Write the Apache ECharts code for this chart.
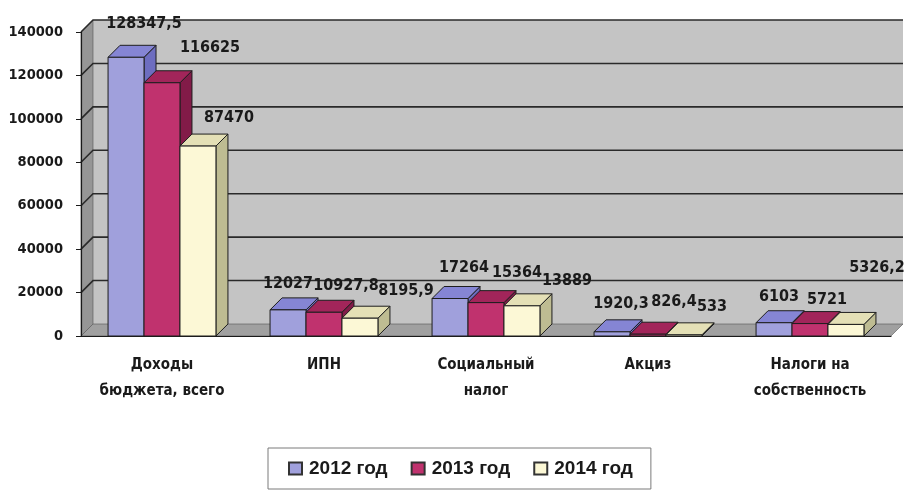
<!DOCTYPE html>
<html>
<head>
<meta charset="utf-8">
<script src="https://cdn.jsdelivr.net/npm/echarts@6/dist/echarts.min.js"></script>
<style>
  html, body { margin: 0; padding: 0; background: #ffffff; }
  #chart { width: 904px; height: 497px; }
</style>
</head>
<body>
<div id="chart"></div>
<script>
// Budget revenue by source, 2012–2014
const categories = ['Доходы\nбюджета, всего', 'ИПН', 'Социальный\nналог', 'Акциз', 'Налоги на\nсобственность'];
const years = ['2012 год', '2013 год', '2014 год'];
const values2012 = [128347.5, 12027, 17264, 1920.3, 6103];
const values2013 = [116625, 10927.8, 15364, 826.4, 5721];
const values2014 = [87470, 8195.9, 13889, 533, 5326.2];
const yTicks = [0, 20000, 40000, 60000, 80000, 100000, 120000, 140000];

// pseudo-3D depth of walls and bars
const DX = 12, DY = -12;
const FONT = '"DejaVu Sans Condensed", "DejaVu Sans", sans-serif';

const barColors = [
  { front: '#a0a0dc', top: '#8585d4', side: '#6d6dc0' },
  { front: '#c0326e', top: '#a2255a', side: '#821b48' },
  { front: '#fcf8d6', top: '#e4e0b6', side: '#bebc92' }
];

// value label placement: [shift right of the bar's front centre, lift above its back top edge]
const labelOffsets = [
  [[18, 21], [48, 23], [31, 16]],
  [[0, 14], [22, 14], [46, 15]],
  [[14, 19], [31, 18], [45, 13]],
  [[9, 16], [26, 20], [28, 16]],
  [[5, 14], [17, 12], [31, 45]]
];

function fmt(v) { return String(v).replace('.', ','); }

function renderWalls(params, api) {
  const cs = params.coordSys;
  const x0 = cs.x, x1 = cs.x + cs.width, yTop = cs.y, yBot = cs.y + cs.height;
  const children = [
    { type: 'rect', shape: { x: x0 + DX, y: yTop + DY, width: x1 - x0, height: yBot - yTop },
      style: { fill: '#c4c4c4' } },
    { type: 'polygon', shape: { points: [[x0, yTop], [x0 + DX, yTop + DY], [x0 + DX, yBot + DY], [x0, yBot]] },
      style: { fill: '#969696', stroke: '#555', lineWidth: 0.6 } },
    { type: 'polygon', shape: { points: [[x0, yBot], [x0 + DX, yBot + DY], [x1 + DX, yBot + DY], [x1, yBot]] },
      style: { fill: '#a0a0a0', stroke: '#555', lineWidth: 0.6 } }
  ];
  yTicks.forEach(function (t) {
    if (t === 0) return;
    const y = api.coord([0, t])[1];
    children.push({ type: 'polyline', shape: { points: [[x0, y], [x0 + DX, y + DY], [x1 + DX, y + DY]] },
      style: { stroke: '#2a2a2a', lineWidth: 1.6, fill: null } });
  });
  return { type: 'group', children: children };
}

function makeBarRenderer(s) {
  return function (params, api) {
    const cat = api.value(0), val = api.value(1);
    const band = api.size([1, 0])[0];
    const bw = band * 0.222;
    const base = api.coord([cat, 0]);
    const top = api.coord([cat, val]);
    const xL = base[0] - 1.5 * bw + s * bw, xR = xL + bw;
    const yB = base[1], yT = top[1];
    const c = barColors[s];
    const edge = { stroke: '#1e1e1e', lineWidth: 1 };
    const off = labelOffsets[cat][s];
    return {
      type: 'group',
      children: [
        { type: 'polygon', shape: { points: [[xR, yB], [xR + DX, yB + DY], [xR + DX, yT + DY], [xR, yT]] },
          style: Object.assign({ fill: c.side }, edge) },
        { type: 'polygon', shape: { points: [[xL, yT], [xL + DX, yT + DY], [xR + DX, yT + DY], [xR, yT]] },
          style: Object.assign({ fill: c.top }, edge) },
        { type: 'rect', shape: { x: xL, y: yT, width: bw, height: yB - yT },
          style: Object.assign({ fill: c.front }, edge) },
        { type: 'text', z2: 100,
          style: { text: fmt(val), x: xL + bw / 2 + off[0], y: yT + DY - off[1],
                   align: 'center', verticalAlign: 'middle',
                   font: 'bold 16px ' + FONT, fill: '#1a1a1a' } }
      ]
    };
  };
}

const seriesValues = [values2012, values2013, values2014];

const option = {
  backgroundColor: '#ffffff',
  animation: false,
  grid: { left: 81, right: 13, top: 32, bottom: 161 },
  legend: {
    data: years.map(function (y) { return { name: y, icon: 'rect' }; }),
    left: 268, top: 448,
    itemWidth: 13, itemHeight: 12, itemGap: 23,
    padding: [11, 18, 11, 20],
    borderColor: '#7a7a7a', borderWidth: 1,
    textStyle: { fontFamily: '"Liberation Sans", Arial, sans-serif', fontWeight: 'bold', fontSize: 19, color: '#1a1a1a', padding: [0, 0, 0, 2] }
  },
  xAxis: {
    type: 'category',
    data: categories,
    axisLine: { lineStyle: { color: '#1a1a1a', width: 1.2 } },
    axisTick: { length: 6, lineStyle: { color: '#1a1a1a' } },
    axisLabel: { margin: 16, lineHeight: 26, fontFamily: FONT, fontWeight: 'bold', fontSize: 15, color: '#1a1a1a', interval: 0 },
    splitLine: { show: false }
  },
  yAxis: {
    type: 'value',
    min: 0, max: 140000, interval: 20000,
    axisLine: { show: true, lineStyle: { color: '#1a1a1a', width: 1.2 } },
    axisTick: { show: true, length: 5, lineStyle: { color: '#1a1a1a' } },
    axisLabel: { margin: 18, fontFamily: FONT, fontWeight: 'bold', fontSize: 14.5, color: '#1a1a1a',
                 formatter: function (v) { return String(v); } },
    splitLine: { show: false }
  },
  series: [
    { type: 'custom', name: 'walls', coordinateSystem: 'cartesian2d', silent: true, z: 0,
      data: [[0, 0]], encode: { x: 0, y: 1 }, renderItem: renderWalls }
  ].concat(seriesValues.map(function (vals, s) {
    return {
      type: 'custom', name: years[s], coordinateSystem: 'cartesian2d', z: 2 + s,
      itemStyle: { color: barColors[s].front, borderColor: '#333', borderWidth: 1 },
      data: vals.map(function (v, i) { return [i, v]; }),
      encode: { x: 0, y: 1 },
      renderItem: makeBarRenderer(s)
    };
  }))
};

const chart = echarts.init(document.getElementById('chart'), null, { renderer: 'canvas' });
chart.setOption(option);
</script>
</body>
</html>
